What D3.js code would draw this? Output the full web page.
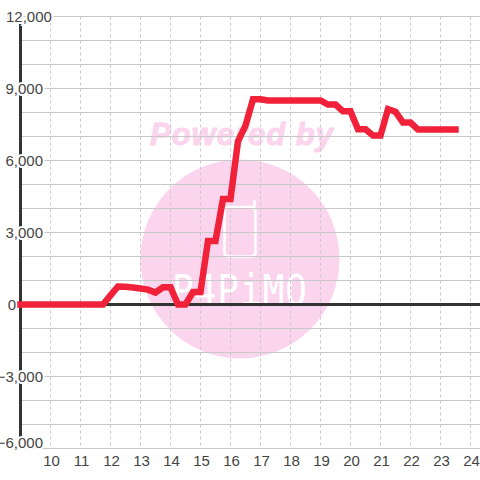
<!DOCTYPE html>
<html>
<head>
<meta charset="utf-8">
<script src="https://cdnjs.cloudflare.com/ajax/libs/d3/7.8.5/d3.min.js"></script>
<style>
  html, body { margin: 0; padding: 0; background: #fff; }
  text { font-family: "Liberation Sans", Arial, sans-serif; }
  .tick-label { font-size: 15px; fill: #444; }
</style>
</head>
<body>
<div id="chart"></div>
<script>
var hours = [9, 9.25, 9.5, 9.75, 10, 10.25, 10.5, 10.75, 11, 11.25, 11.5, 11.75,
  12, 12.25, 12.5, 12.75, 13, 13.25, 13.5, 13.75, 14, 14.25, 14.5, 14.75,
  15, 15.25, 15.5, 15.75, 16, 16.25, 16.5, 16.75, 17, 17.25, 17.5, 17.75,
  18, 18.25, 18.5, 18.75, 19, 19.25, 19.5, 19.75, 20, 20.25, 20.5, 20.75,
  21, 21.25, 21.5, 21.75, 22, 22.25, 22.5, 22.75, 23, 23.25, 23.5];
var values = [0, 0, 0, 0, 0, 0, 0, 0, 0, 0, 0, 0,
  380, 750, 740, 710, 670, 620, 500, 720, 720, 0, 0, 520,
  520, 2650, 2650, 4400, 4400, 6800, 7450, 8550, 8550, 8500, 8500, 8500,
  8500, 8500, 8500, 8500, 8500, 8330, 8330, 8050, 8050, 7300, 7300, 7040,
  7040, 8140, 8030, 7580, 7580, 7290, 7290, 7290, 7290, 7290, 7290];
var xTicks = [10, 11, 12, 13, 14, 15, 16, 17, 18, 19, 20, 21, 22, 23, 24];
var yGrid = d3.range(-6000, 12001, 1000);
var yTicks = [-6000, -3000, 0, 3000, 6000, 9000, 12000];

var width = 480, height = 480;

var x = d3.scaleLinear().domain([9, 24.325]).range([20.5, 480.25]);
var y = d3.scaleLinear().domain([-6000, 12000]).range([448.5, 16.5]);

var svg = d3.select("#chart").append("svg")
  .attr("width", width)
  .attr("height", height)
  .style("display", "block");

// watermark sits under the grid
var mark = svg.append("g");
mark.append("circle")
  .attr("cx", 240).attr("cy", 259).attr("r", 99.5)
  .attr("fill", "#fbd5ee");
mark.append("rect")
  .attr("x", 224.5).attr("y", 207).attr("width", 31).attr("height", 49.5).attr("rx", 4)
  .attr("fill", "none").attr("stroke", "#fff").attr("stroke-width", 2.5);
mark.append("line")
  .attr("x1", 254.5).attr("x2", 254.5).attr("y1", 201).attr("y2", 209)
  .attr("stroke", "#fff").attr("stroke-width", 2.5).attr("stroke-linecap", "round");
mark.append("text")
  .attr("transform", "translate(240,305) scale(1,1.2)")
  .attr("text-anchor", "middle")
  .style("font-family", "'DejaVu Sans Mono', monospace")
  .style("font-size", "36px")
  .style("letter-spacing", "1px")
  .attr("fill", "#fff")
  .text("P4PiMO");
mark.append("text")
  .attr("x", 242).attr("y", 145)
  .attr("text-anchor", "middle")
  .style("font-size", "31px")
  .style("font-weight", "bold")
  .style("font-style", "italic")
  .style("letter-spacing", "1px")
  .attr("fill", "#fbd5ee")
  .attr("stroke", "#fbd5ee").attr("stroke-width", 1)
  .text("Powered by");

// grid
svg.append("g").selectAll("line")
  .data(yGrid)
  .enter().append("line")
  .attr("x1", 20.5).attr("x2", 480)
  .attr("y1", function(d) { return y(d); })
  .attr("y2", function(d) { return y(d); })
  .attr("stroke", "#c8c8c8").attr("stroke-width", 1);

svg.append("g").selectAll("line")
  .data(xTicks)
  .enter().append("line")
  .attr("x1", function(d) { return x(d); })
  .attr("x2", function(d) { return x(d); })
  .attr("y1", 16.5).attr("y2", 446)
  .attr("stroke", "#c8c8c8").attr("stroke-width", 1)
  .attr("stroke-dasharray", "3,3");

// axes
svg.append("line")
  .attr("x1", 20.5).attr("x2", 480)
  .attr("y1", y(0)).attr("y2", y(0))
  .attr("stroke", "#333").attr("stroke-width", 3);
svg.append("line")
  .attr("x1", 20.5).attr("x2", 20.5)
  .attr("y1", 16.5).attr("y2", 448.5)
  .attr("stroke", "#333").attr("stroke-width", 3);

// labels with a white halo, they cut the axis and the grid
var fmt = d3.format(",");

svg.append("g").selectAll("text")
  .data(yTicks)
  .enter().append("text")
  .attr("class", "tick-label")
  .attr("x", function(d) { return d == 12000 ? 6 : d == 0 ? 16 : 43; })
  .attr("y", function(d) { return y(d) + (d == -6000 ? -1 : 5); })
  .attr("text-anchor", function(d) { return d == 12000 ? "start" : "end"; })
  .attr("stroke", "#fff").attr("stroke-width", 4)
  .attr("paint-order", "stroke")
  .text(function(d) { return fmt(d); });

svg.append("g").selectAll("text")
  .data(xTicks)
  .enter().append("text")
  .attr("class", "tick-label")
  .attr("x", function(d) { return x(d) + 1; })
  .attr("y", 466)
  .attr("text-anchor", "middle")
  .text(function(d) { return d; });

// series
var line = d3.line()
  .x(function(d, i) { return x(hours[i]); })
  .y(function(d) { return y(d); });

svg.append("path")
  .datum(values)
  .attr("d", line)
  .attr("fill", "none")
  .attr("stroke", "#f02138")
  .attr("stroke-width", 6.5)
  .attr("stroke-linecap", "square")
  .attr("stroke-linejoin", "miter");
</script>
</body>
</html>
